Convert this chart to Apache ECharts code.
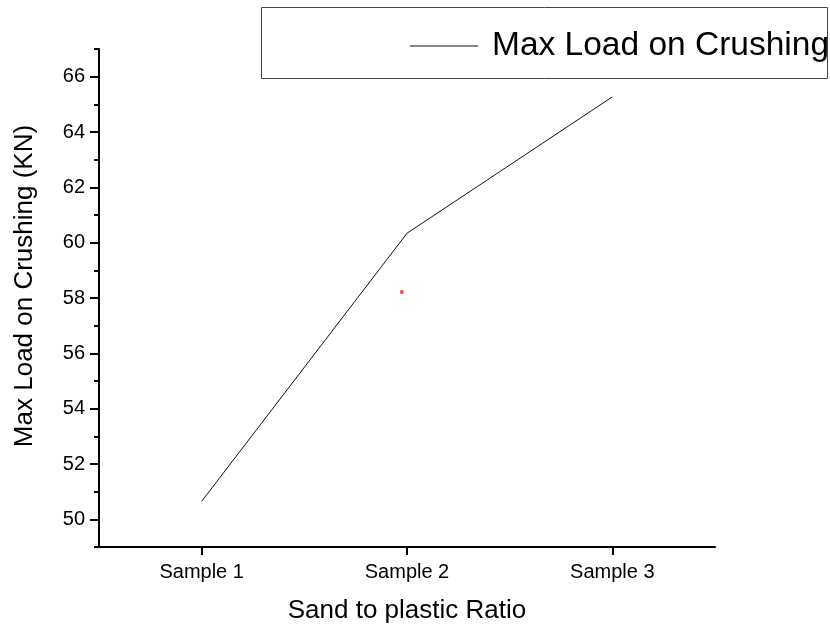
<!DOCTYPE html>
<html>
<head>
<meta charset="utf-8">
<script src="https://cdn.jsdelivr.net/npm/echarts@6/dist/echarts.min.js"></script>
<style>html,body{margin:0;padding:0;background:#fff;}#chart{width:830px;height:625px;}</style>
</head>
<body>
<div id="chart"></div>
<script>
var categories = ['Sample 1', 'Sample 2', 'Sample 3'];
var categoryPositions = [1, 2, 3];
var loadValues = [50.65, 60.34, 65.27];
var outlierPoint = [1.975, 58.22];
var yMajorTicks = [50, 52, 54, 56, 58, 60, 62, 64, 66];
var yMinorTicks = [49, 51, 53, 55, 57, 59, 61, 63, 65, 67];
var seriesName = 'Max Load on Crushing';
var xTitle = 'Sand to plastic Ratio';
var yTitle = 'Max Load on Crushing (KN)';

var FONT = '"Liberation Sans", Arial, sans-serif';
var chart = echarts.init(document.getElementById('chart'), null, {renderer: 'canvas'});
var lineData = categoryPositions.map(function (p, i) { return [p, loadValues[i]]; });

chart.setOption({
  animation: false,
  backgroundColor: '#ffffff',
  grid: {left: 99, right: 115, top: 49, bottom: 78, containLabel: false, outerBoundsMode: 'none'},
  graphic: [{
    type: 'rect', shape: {x: 261.5, y: 7.5, width: 566, height: 71},
    style: {fill: 'none', stroke: '#444', lineWidth: 1}, z: 10
  }],
  legend: {
    left: 410, top: 29, padding: 0,
    itemWidth: 68, itemHeight: 1,
    textStyle: {fontFamily: FONT, fontSize: 33.5, color: '#000', padding: [0, 0, 0, 9]},
    data: [{name: seriesName, icon: 'rect', itemStyle: {color: '#111'}}]
  },
  xAxis: {
    type: 'value', min: 0.5, max: 3.5,
    name: xTitle, nameLocation: 'middle', nameGap: 51,
    nameTextStyle: {fontFamily: FONT, fontSize: 26, color: '#000'},
    axisLine: {show: true, lineStyle: {color: '#000', width: 2}},
    axisTick: {show: true, length: 8, lineStyle: {color: '#000', width: 2}, customValues: categoryPositions},
    axisLabel: {
      fontFamily: FONT, fontSize: 20, color: '#000', margin: 15,
      customValues: categoryPositions,
      formatter: function (v) { return categories[Math.round(v) - 1] || ''; }
    },
    splitLine: {show: false}
  },
  yAxis: [{
    type: 'value', min: 49, max: 67,
    name: yTitle, nameLocation: 'middle', nameGap: 61,
    nameTextStyle: {fontFamily: FONT, fontSize: 26, color: '#000', padding: [0, 0, 0, 24]},
    axisLine: {show: true, lineStyle: {color: '#000', width: 2}},
    axisTick: {show: true, length: 9, lineStyle: {color: '#000', width: 2}, customValues: yMajorTicks},
    axisLabel: {fontFamily: FONT, fontSize: 20, color: '#000', margin: 14, customValues: yMajorTicks},
    splitLine: {show: false}
  }, {
    type: 'value', min: 49, max: 67, position: 'left', offset: 0,
    axisLine: {show: false},
    axisTick: {show: true, length: 5, lineStyle: {color: '#000', width: 2}, customValues: yMinorTicks},
    axisLabel: {show: false},
    splitLine: {show: false}
  }],
  series: [{
    name: seriesName, type: 'line', data: lineData,
    symbol: 'none', lineStyle: {color: '#111', width: 1},
    itemStyle: {color: '#111'}
  }, {
    name: 'outlier', type: 'scatter', data: [outlierPoint],
    symbol: 'circle', symbolSize: 4, itemStyle: {color: '#e8202a'}
  }]
});
</script>
</body>
</html>
